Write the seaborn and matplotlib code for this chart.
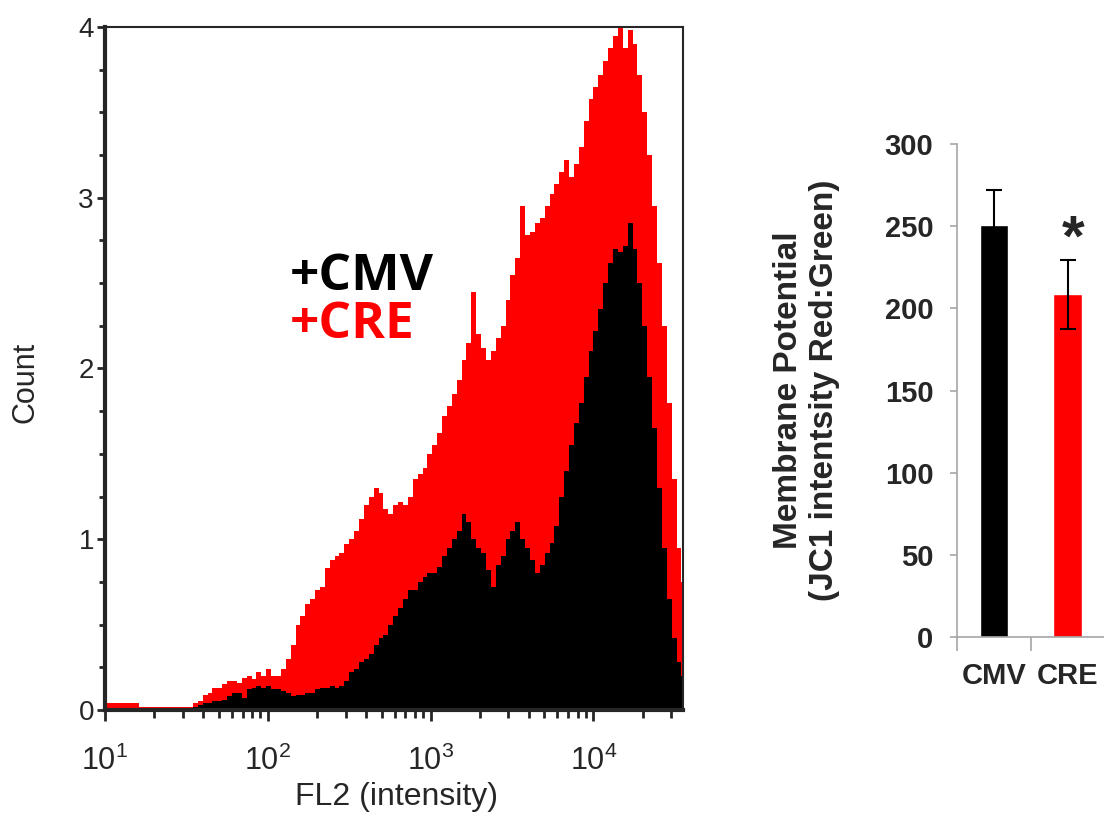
import numpy as np
import pandas as pd
import matplotlib
matplotlib.use("Agg")
import matplotlib.pyplot as plt
from matplotlib.ticker import MultipleLocator, LogLocator, NullFormatter, FixedLocator
import seaborn as sns

# Histogram: FL2 intensity channels (log10 bins of 0.03 decade starting at 10^1)
bin_start = 1.0
bin_step = 0.03
cre_counts = [
    0.04, 0.04, 0.04, 0.04, 0.04, 0.04, 0.04, 0.015, 0.015, 0.015,
    0.015, 0.015, 0.015, 0.015, 0.015, 0.015, 0.015, 0.015, 0.04, 0.05,
    0.09, 0.10, 0.13, 0.13, 0.15, 0.17, 0.17, 0.16, 0.19, 0.20,
    0.18, 0.22, 0.20, 0.24, 0.20, 0.20, 0.24, 0.30, 0.38, 0.50,
    0.55, 0.62, 0.65, 0.70, 0.72, 0.83, 0.88, 0.90, 0.92, 0.97,
    1.00, 1.05, 1.12, 1.20, 1.25, 1.30, 1.27, 1.18, 1.15, 1.20,
    1.22, 1.20, 1.25, 1.35, 1.38, 1.42, 1.50, 1.55, 1.62, 1.72,
    1.78, 1.85, 1.93, 2.05, 2.15, 2.45, 2.20, 2.12, 2.05, 2.10,
    2.18, 2.25, 2.40, 2.55, 2.65, 2.95, 2.78, 2.80, 2.85, 2.88,
    2.95, 3.02, 3.08, 3.15, 3.22, 3.12, 3.20, 3.30, 3.45, 3.58,
    3.65, 3.72, 3.80, 3.88, 3.95, 4.00, 3.88, 3.98, 3.90, 3.72,
    3.50, 3.25, 2.95, 2.62, 2.25, 1.80, 1.35, 0.95, 0.75,
]
cmv_counts = [
    0.012, 0.012, 0.012, 0.012, 0.012, 0.012, 0.012, 0.012, 0.012, 0.012,
    0.012, 0.012, 0.012, 0.012, 0.012, 0.012, 0.012, 0.012, 0.02, 0.03,
    0.04, 0.04, 0.05, 0.05, 0.06, 0.08, 0.10, 0.10, 0.07, 0.12,
    0.13, 0.14, 0.13, 0.14, 0.12, 0.12, 0.11, 0.10, 0.08, 0.09,
    0.09, 0.10, 0.10, 0.12, 0.13, 0.13, 0.14, 0.13, 0.14, 0.17,
    0.22, 0.24, 0.28, 0.30, 0.33, 0.38, 0.42, 0.44, 0.50, 0.55,
    0.60, 0.65, 0.70, 0.70, 0.75, 0.78, 0.80, 0.80, 0.84, 0.90,
    0.95, 1.00, 1.05, 1.15, 1.10, 1.00, 0.95, 0.92, 0.82, 0.72,
    0.85, 0.90, 1.00, 1.05, 1.10, 1.00, 0.95, 0.88, 0.80, 0.85,
    0.92, 0.98, 1.08, 1.25, 1.40, 1.55, 1.68, 1.80, 1.95, 2.10,
    2.22, 2.35, 2.50, 2.62, 2.70, 2.68, 2.72, 2.85, 2.70, 2.50,
    2.25, 1.95, 1.65, 1.30, 0.95, 0.65, 0.42, 0.28, 0.20,
]

# Bar chart: membrane potential
groups = ["CMV", "CRE"]
potential = [251, 208.5]
potential_err = [21, 21]
bar_colors = ["black", "red"]

sns.set_style("ticks")
plt.rcParams["font.family"] = ["Liberation Sans", "DejaVu Sans"]
plt.rcParams["mathtext.fontset"] = "custom"
plt.rcParams["mathtext.rm"] = "Liberation Sans"
plt.rcParams["mathtext.it"] = "Liberation Sans"

n_bins = len(cre_counts)
log_centers = bin_start + bin_step * (np.arange(n_bins) + 0.5)
hist_df = pd.DataFrame({
    "fl2": np.concatenate([10 ** log_centers, 10 ** log_centers]),
    "count": cre_counts + cmv_counts,
    "group": ["CRE"] * n_bins + ["CMV"] * n_bins,
})

fig = plt.figure(figsize=(11.04, 8.14), dpi=100)
ax = fig.add_axes([0.0951, 0.1278, 0.5236, 0.839])
ax2 = fig.add_axes([0.8668, 0.2174, 0.134, 0.6057])

# Left panel: overlaid FL2 histograms
log_range = (bin_start, bin_start + bin_step * n_bins)
for grp, col in [("CRE", "red"), ("CMV", "black")]:
    sns.histplot(data=hist_df[hist_df["group"] == grp], x="fl2", weights="count",
                 bins=n_bins, binrange=log_range, log_scale=True,
                 element="step", fill=True, color=col, alpha=1, linewidth=0, ax=ax)

ax.set_xlim(10, 10 ** 4.55)
ax.set_ylim(0, 4)
ax.yaxis.set_major_locator(MultipleLocator(1))
ax.yaxis.set_minor_locator(MultipleLocator(0.25))
ax.xaxis.set_major_locator(LogLocator(base=10, numticks=10))
ax.xaxis.set_minor_locator(LogLocator(base=10, subs=np.arange(2, 10), numticks=10))
ax.xaxis.set_minor_formatter(NullFormatter())
for side in ["left", "bottom"]:
    ax.spines[side].set_linewidth(3)
for side in ["top", "right"]:
    ax.spines[side].set_linewidth(1.5)
    ax.spines[side].set_visible(True)
ax.tick_params(axis="y", which="major", length=6, width=2, labelsize=20, pad=2)
ax.tick_params(axis="y", which="minor", length=4, width=2)
ax.tick_params(axis="x", which="major", length=8, width=2, labelsize=22, pad=18)
ax.tick_params(axis="x", which="minor", length=6, width=2)
ax.set_xlabel("FL2 (intensity)", fontsize=23)
ax.set_ylabel("Count", fontsize=22)
ax.xaxis.set_label_coords(0.505, -0.106)
ax.yaxis.set_label_coords(-0.112, 0.479)

ax.text(136, 2.46, "+CMV", color="black", fontsize=37, fontweight="bold",
        family=["Open Sans", "DejaVu Sans"], ha="left", va="baseline")
ax.text(136, 2.18, "+CRE", color="red", fontsize=37, fontweight="bold",
        family=["Open Sans", "DejaVu Sans"], ha="left", va="baseline")

# Right panel: bar chart
bar_df = pd.DataFrame({"group": groups, "value": potential})
sns.barplot(data=bar_df, x="group", y="value", hue="group", palette=bar_colors,
            width=0.39, saturation=1, errorbar=None, legend=False, ax=ax2)
ax2.errorbar(x=range(len(groups)), y=potential, yerr=potential_err, fmt="none",
             ecolor="black", elinewidth=1.5, capsize=6, capthick=1.5)
ax2.text(1.07, 232, "*", fontsize=42, fontweight="bold", ha="center", va="baseline")

ax2.set_xlim(-0.5, 1.5)
ax2.set_ylim(0, 300)
ax2.set_yticks(range(0, 301, 50))
ax2.xaxis.set_minor_locator(FixedLocator([-0.5, 0.5, 1.5]))
ax2.tick_params(axis="x", which="major", length=0, labelsize=21, pad=18)
ax2.tick_params(axis="x", which="minor", length=10, color="#a6a6a6", width=1.2)
ax2.tick_params(axis="y", length=5, color="#a6a6a6", width=1.2, labelsize=21, pad=12)
for lab in ax2.get_xticklabels() + ax2.get_yticklabels():
    lab.set_fontweight("bold")
sns.despine(ax=ax2)
for side in ["left", "bottom"]:
    ax2.spines[side].set_color("#a6a6a6")
    ax2.spines[side].set_linewidth(1.2)
ax2.set_xlabel("")
ax2.set_ylabel("Membrane Potential\n(JC1 intentsity Red:Green)", fontsize=24,
               fontweight="bold")
ax2.yaxis.set_label_coords(-0.79, 0.5)

fig.savefig("out.png", dpi=100)
